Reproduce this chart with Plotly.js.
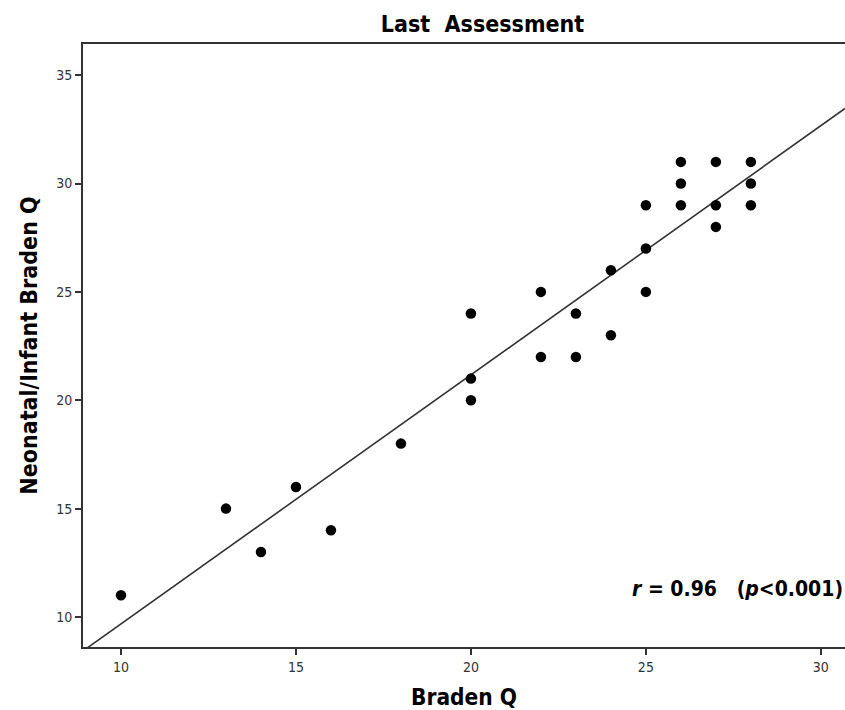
<!DOCTYPE html>
<html>
<head>
<meta charset="utf-8">
<script src="https://cdn.plot.ly/plotly-3.0.1.min.js"></script>
<style>html,body{margin:0;padding:0;background:#fff;}#chart{width:845px;height:710px;}</style>
</head>
<body>
<div id="chart"></div>
<script>
// Data
const bradenQ = [10,13,14,15,16,18,20,20,20,22,22,23,23,24,24,25,25,25,26,26,26,27,27,27,28,28,28];
const neonatalBradenQ = [11,15,13,16,14,18,24,21,20,25,22,24,22,26,23,29,27,25,31,30,29,31,29,28,31,30,29];
const xTickVals = [10,15,20,25,30];
const yTickVals = [10,15,20,25,30,35];
const chartTitle = "Last&nbsp;&nbsp;Assessment";
const xTitle = "Braden Q";
const yTitle = "Neonatal/Infant Braden Q";
const statText = "<i>r</i> = 0.96&nbsp;&nbsp;&nbsp;(<i>p</i>&lt;0.001)";

// Least-squares fit line computed from the data
const n = bradenQ.length;
const mx = bradenQ.reduce((a,b)=>a+b,0)/n;
const my = neonatalBradenQ.reduce((a,b)=>a+b,0)/n;
let sxy = 0, sxx = 0;
for (let i=0;i<n;i++){ sxy += (bradenQ[i]-mx)*(neonatalBradenQ[i]-my); sxx += (bradenQ[i]-mx)**2; }
const slope = sxy/sxx, intercept = my - slope*mx;
const xRange = [8.914, 30.69];
const yRange = [8.614, 36.44];
const fitX = [xRange[0], xRange[1]];
const fitY = fitX.map(x => intercept + slope*x);

const FONT = "'Liberation Sans Narrow', 'Arial Narrow', 'DejaVu Sans Condensed', 'Liberation Sans', sans-serif";

const traces = [
  {x: fitX, y: fitY, mode: 'lines', line: {color: '#333', width: 1.6}, hoverinfo: 'skip'},
  {x: bradenQ, y: neonatalBradenQ, mode: 'markers', marker: {color: '#000', size: 10.5, symbol: 'circle'}}
];

const layout = {
  width: 845, height: 710,
  margin: {l: 83, r: 0, t: 44, b: 63},
  paper_bgcolor: '#fff', plot_bgcolor: '#fff',
  showlegend: false,
  font: {family: FONT, color: '#222'},
  title: {text: '<b>' + chartTitle + '</b>', x: 0.571, xanchor: 'center', y: 0.966, yanchor: 'middle', yref: 'container',
          font: {family: FONT, size: 23, color: '#000'}},
  xaxis: {range: xRange, tickvals: xTickVals, ticks: 'outside', ticklen: 6, tickwidth: 2, tickcolor: '#333',
          showgrid: false, zeroline: false, showline: true, linecolor: '#333', linewidth: 2, mirror: true,
          tickfont: {family: FONT, size: 14, color: '#333'},
          title: {text: '<b>' + xTitle + '</b>', standoff: 15, font: {family: FONT, size: 22.5, color: '#000'}}},
  yaxis: {range: yRange, tickvals: yTickVals, ticks: 'outside', ticklen: 6, tickwidth: 2, tickcolor: '#333',
          showgrid: false, zeroline: false, showline: true, linecolor: '#333', linewidth: 2, mirror: false,
          tickfont: {family: FONT, size: 14, color: '#333'},
          title: {text: '<b>' + yTitle + '</b>', standoff: 12, font: {family: FONT, size: 23, color: '#000'}}},
  annotations: [
    {text: '<b>' + statText + '</b>', xref: 'paper', yref: 'paper', x: 1, y: 0.097, xanchor: 'right', yanchor: 'middle',
     showarrow: false, font: {family: FONT, size: 21, color: '#000'}}
  ]
};

Plotly.newPlot('chart', traces, layout, {displayModeBar: false, staticPlot: true});
</script>
</body>
</html>
